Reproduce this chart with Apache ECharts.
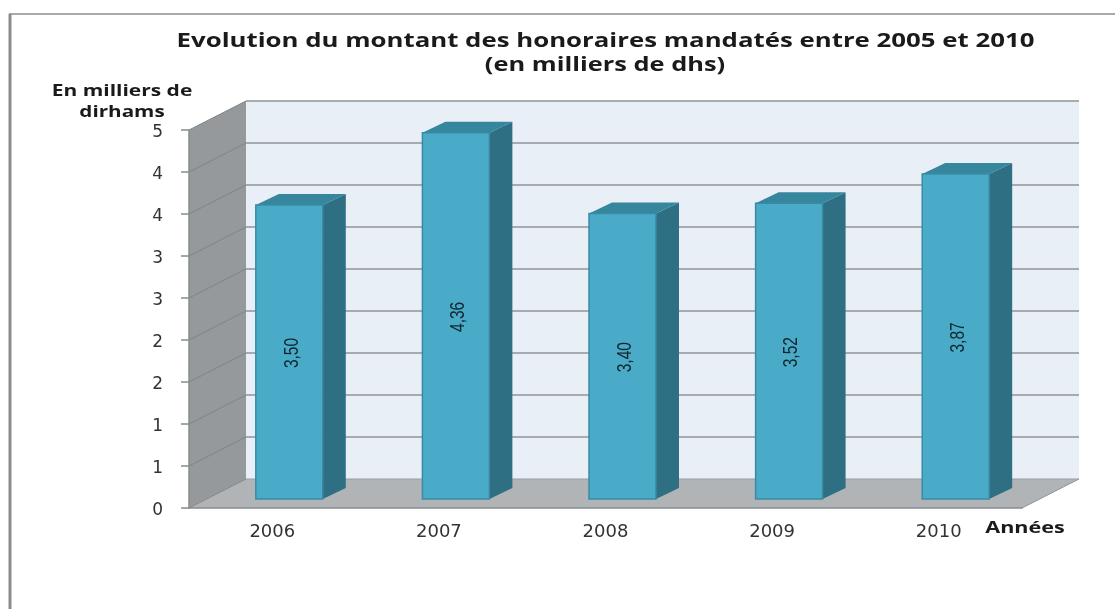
<!DOCTYPE html>
<html>
<head>
<meta charset="utf-8">
<style>html,body{margin:0;padding:0;background:#fff}#c{width:1115px;height:609px}</style>
<script src="https://cdn.jsdelivr.net/npm/echarts@6/dist/echarts.min.js"></script>
</head>
<body>
<div id="c"></div>
<script>
const categories = ['2006', '2007', '2008', '2009', '2010'];
const honoraires = [3.50, 4.36, 3.40, 3.52, 3.87];
const gridValues = [0.5, 1, 1.5, 2, 2.5, 3, 3.5, 4, 4.5];

// 3D look: depth of the chart box and of the bars, in pixels
const BOX = { dx: 57, dy: -29 };
const BAR = { inset: 17, lift: 9, dx: 23, dy: -11, share: 0.402 };
const BOLD = { fontFamily: '"Open Sans", sans-serif', fontWeight: 'bold', fill: '#1a1a1a', align: 'center', verticalAlign: 'middle' };

function poly(points, fill, stroke, lineWidth) {
  return { type: 'polygon', shape: { points }, style: { fill, stroke: stroke || 'none', lineWidth: lineWidth || 0 } };
}
function line(x1, y1, x2, y2, stroke, lineWidth) {
  return { type: 'line', shape: { x1, y1, x2, y2 }, style: { stroke, lineWidth } };
}

function renderWalls(params, api) {
  const cs = params.coordSys;
  const L = cs.x, R = cs.x + cs.width;
  const y0 = api.coord([0, 0])[1];
  const yT = api.coord([0, 4.5])[1];
  return { type: 'group', children: [
    poly([[L + BOX.dx, yT + BOX.dy], [R + BOX.dx, yT + BOX.dy], [R + BOX.dx, y0 + BOX.dy], [L + BOX.dx, y0 + BOX.dy]], '#e8eff6'),
    poly([[L, y0], [R, y0], [R + BOX.dx, y0 + BOX.dy], [L + BOX.dx, y0 + BOX.dy]], '#b0b4b7'),
    poly([[L, yT], [L + BOX.dx, yT + BOX.dy], [L + BOX.dx, y0 + BOX.dy], [L, y0]], '#95999b'),
    line(L, y0, L + BOX.dx, y0 + BOX.dy, '#84888a', 1),
    line(R, y0, R + BOX.dx, y0 + BOX.dy, '#8f9497', 1),
    line(L + BOX.dx, y0 + BOX.dy, R + BOX.dx, y0 + BOX.dy, '#9a9ea1', 1)
  ]};
}

function renderGrid(params, api) {
  const cs = params.coordSys;
  const L = cs.x, R = cs.x + cs.width;
  const y = api.coord([0, api.value(1)])[1];
  return { type: 'group', children: [
    line(L, y, L + BOX.dx, y + BOX.dy, '#7f8486', 1),
    line(L + BOX.dx, y + BOX.dy, R + BOX.dx, y + BOX.dy, '#8f9497', 1.6)
  ]};
}

function renderBar(params, api) {
  const i = api.value(0), v = api.value(1);
  const top = api.coord([i, v]);
  const base = api.coord([i, 0]);
  const w = api.size([1, 0])[0] * BAR.share;
  const l = top[0] - w / 2 + BAR.inset, r = l + w;
  const t = top[1] - BAR.lift, b = base[1] - BAR.lift;
  return { type: 'group', children: [
    poly([[r, t], [r + BAR.dx, t + BAR.dy], [r + BAR.dx, b + BAR.dy], [r, b]], '#2f6f83'),
    poly([[l, t], [l + BAR.dx, t + BAR.dy], [r + BAR.dx, t + BAR.dy], [r, t]], '#36869e'),
    poly([[l, t], [r, t], [r, b], [l, b]], '#4aabc8', '#3a8aa5', 1.5),
    { type: 'text', x: (l + r) / 2 + 2.5, y: (t + b) / 2 + 1, rotation: Math.PI / 2, scaleX: 0.74, scaleY: 1,
      style: { text: v.toFixed(2).replace('.', ','), fontSize: 21, fontFamily: '"Liberation Sans", sans-serif', fill: '#10262e', align: 'center', verticalAlign: 'middle' } }
  ]};
}

const chart = echarts.init(document.getElementById('c'), null, { renderer: 'canvas' });
chart.setOption({
  animation: false,
  backgroundColor: '#fff',
  grid: { left: 189, right: 93, top: 130, bottom: 101 },
  xAxis: {
    type: 'category', data: categories, z: 5,
    axisLine: { lineStyle: { color: '#888c8e', width: 1.5 } },
    axisTick: { alignWithLabel: false, length: 6, lineStyle: { color: '#888c8e', width: 1.5 } },
    axisLabel: { margin: 15, fontFamily: '"DejaVu Sans", sans-serif', fontSize: 18, color: '#333' },
    splitLine: { show: false }
  },
  yAxis: {
    type: 'value', min: 0, max: 4.5, interval: 0.5, z: 5,
    axisLine: { show: true, lineStyle: { color: '#888c8e', width: 1.5 } },
    axisTick: { show: true, length: 8, lineStyle: { color: '#888c8e', width: 1.5 } },
    axisLabel: {
      margin: 26, color: '#333',
      formatter: v => '{n|' + Math.round(v + 1e-9) + '}',
      rich: { n: { fontFamily: '"DejaVu Sans", sans-serif', fontSize: 17, color: '#333', padding: [6, 0, 0, 0] } }
    },
    splitLine: { show: false }
  },
  graphic: [
    { type: 'line', silent: true, shape: { x1: 10, y1: 14, x2: 10, y2: 609 }, style: { stroke: '#8c8c8c', lineWidth: 3 } },
    { type: 'line', silent: true, shape: { x1: 9, y1: 14, x2: 1115, y2: 14 }, style: { stroke: '#8c8c8c', lineWidth: 1.5 } },
    { type: 'text', silent: true, x: 605.5, y: 41, scaleX: 1.29, style: Object.assign({ text: 'Evolution du montant des honoraires mandatés entre 2005 et 2010', fontSize: 20 }, BOLD) },
    { type: 'text', silent: true, x: 605, y: 65, scaleX: 1.27, style: Object.assign({ text: '(en milliers de dhs)', fontSize: 20 }, BOLD) },
    { type: 'text', silent: true, x: 122, y: 91, scaleX: 1.31, style: Object.assign({ text: 'En milliers de', fontSize: 16 }, BOLD) },
    { type: 'text', silent: true, x: 122, y: 112, scaleX: 1.29, style: Object.assign({ text: 'dirhams', fontSize: 16 }, BOLD) },
    { type: 'text', silent: true, x: 1025, y: 528, scaleX: 1.35, style: Object.assign({ text: 'Années', fontSize: 16 }, BOLD) }
  ],
  series: [
    { type: 'custom', name: 'walls', renderItem: renderWalls, data: [[0, 0]], clip: false, silent: true, z: 1 },
    { type: 'custom', name: 'grid', renderItem: renderGrid, data: gridValues.map(v => [0, v]), clip: false, silent: true, z: 2 },
    { type: 'custom', name: 'Honoraires', renderItem: renderBar, data: honoraires.map((v, i) => [i, v]), clip: false, silent: true, z: 3,
      encode: { x: 0, y: 1 } }
  ]
});
</script>
</body>
</html>
